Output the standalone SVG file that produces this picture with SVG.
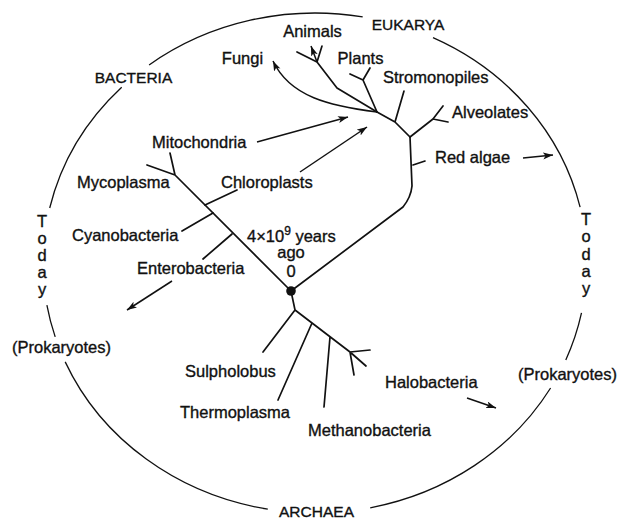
<svg xmlns="http://www.w3.org/2000/svg" width="624" height="521" viewBox="0 0 624 521">
<style>
text{font-family:"Liberation Sans",Arial,sans-serif;font-size:16.5px;fill:#111;stroke:#111;stroke-width:0.35}
.cap{font-size:15.5px}
.mid{text-anchor:middle}
.ring{fill:none;stroke:#111;stroke-width:1.3}
.br{fill:none;stroke:#111;stroke-width:1.7;stroke-linecap:round;stroke-linejoin:round}
.arr{fill:none;stroke:#111;stroke-width:1.5;marker-end:url(#ah)}
</style>
<defs>
<marker id="ah" markerUnits="userSpaceOnUse" markerWidth="11" markerHeight="8" refX="10" refY="3.5" orient="auto">
<path d="M0,0 L10,3.5 L0,7 L2.5,3.5 z" fill="#111"/>
</marker>
</defs>
<rect width="624" height="521" fill="#fff"/>
<g id="ring">
<path class="ring" d="M149.1,65 A272,250 0 0 1 362.7,16.9 M433,37.7 A272,250 0 0 1 580.1,207.2 M581.5,312.9 A272,250 0 0 1 565.8,359.9 M550.6,388 A272,250 0 0 1 370.2,507.8 M267.8,509.2 A272,250 0 0 1 65.2,361.9 M55.2,336.9 A272,250 0 0 1 46.9,305.1 M49.7,208 A272,250 0 0 1 121.7,87.2"/>
</g>
<g id="connectors">
<path class="br" d="M291,291 L175,175 L147,165 M175,175 L170,153"/>
<path class="br" d="M205,205 L237,190 M213,213 L182,231 M232,234 L203,259"/>
<path class="br" d="M291,291 L403,207 Q411,197 412,186 L410,137 M413,165 L425,161"/>
<path class="br" d="M410,137 L433,119 L443,106 M433,119 L448,122"/>
<path class="br" d="M410,137 L395,122 L404,91 M395,122 L377,112"/>
<path class="br" d="M377,112 L363,80 L350,74 M363,80 L370,68"/>
<path class="br" d="M377,112 L337,88 L317,62 L297,52 M317,62 L322,46"/>
<path class="arr" d="M377,112 C330,106 290,97 273,61"/>
<path class="arr" d="M317,62 L311,46"/>
<path class="br" d="M291,291 L295,310 L263,352 M295,310 L350,352 L366,366 M350,352 L370,350 M350,352 L354,375 M312,323 L278,400 M330,337 L324,407"/>
<path class="arr" d="M257,142 L348,117"/>
<path class="arr" d="M300,172 L367,127"/>
<path class="arr" d="M172,281 L127,310"/>
<path class="arr" d="M523,158 L553,155"/>
<path class="arr" d="M467,398 L496,408"/>
</g>
<circle id="origin" cx="291" cy="291" r="4.8" fill="#111"/>
<g id="bacteria"><text class="cap mid" x="133.5" y="83">BACTERIA</text></g>
<g id="eukarya"><text class="cap mid" x="408" y="30">EUKARYA</text></g>
<g id="archaea"><text class="cap mid" x="316.5" y="517">ARCHAEA</text></g>
<g id="animals"><text class="mid" x="312.5" y="37">Animals</text></g>
<g id="fungi"><text class="mid" x="242.5" y="64">Fungi</text></g>
<g id="plants"><text class="mid" x="360.5" y="64">Plants</text></g>
<g id="stromonopiles"><text x="383" y="83">Stromonopiles</text></g>
<g id="alveolates"><text x="452" y="118">Alveolates</text></g>
<g id="redalgae"><text x="435" y="163">Red algae</text></g>
<g id="mitochondria"><text x="152" y="148">Mitochondria</text></g>
<g id="mycoplasma"><text x="77" y="188">Mycoplasma</text></g>
<g id="chloroplasts"><text x="221" y="188">Chloroplasts</text></g>
<g id="cyanobacteria"><text x="72" y="241">Cyanobacteria</text></g>
<g id="enterobacteria"><text x="137" y="274">Enterobacteria</text></g>
<g id="age"><text x="247" y="242">4×10<tspan dy="-7" font-size="12">9</tspan><tspan dy="7"> years</tspan></text>
<text class="mid" x="291" y="258">ago</text>
<text class="mid" x="291" y="277">0</text></g>
<g id="sulpholobus"><text x="185" y="377">Sulpholobus</text></g>
<g id="thermoplasma"><text x="180" y="418">Thermoplasma</text></g>
<g id="methanobacteria"><text x="308" y="436">Methanobacteria</text></g>
<g id="halobacteria"><text x="385" y="388">Halobacteria</text></g>
<g id="prok-left"><text x="12" y="353">(Prokaryotes)</text></g>
<g id="prok-right"><text x="518" y="380">(Prokaryotes)</text></g>
<g id="today-left">
<text class="mid" x="42" y="227">T</text><text class="mid" x="42" y="244">o</text><text class="mid" x="42" y="261">d</text><text class="mid" x="42" y="278">a</text><text class="mid" x="42" y="295">y</text>
</g>
<g id="today-right">
<text class="mid" x="586" y="225">T</text><text class="mid" x="586" y="242">o</text><text class="mid" x="586" y="260">d</text><text class="mid" x="586" y="277">a</text><text class="mid" x="586" y="294">y</text>
</g>
</svg>
